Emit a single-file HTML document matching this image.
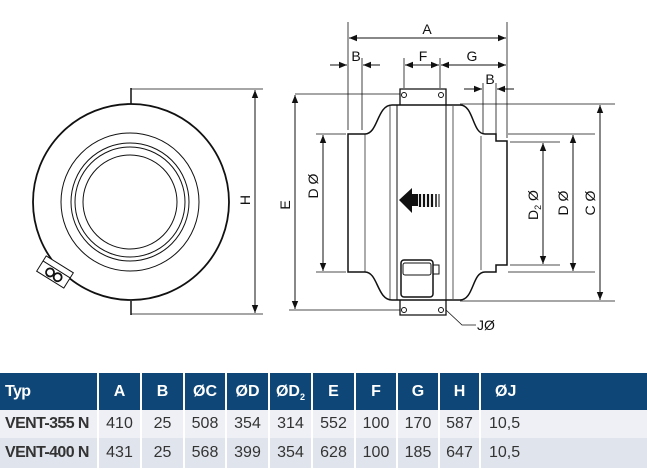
<!DOCTYPE html>
<html><head><meta charset="utf-8"><style>
body{margin:0;width:647px;height:469px;background:#fff;overflow:hidden;font-family:"Liberation Sans",sans-serif}
svg{position:absolute;left:0;top:0}
table{position:absolute;left:0;top:373px;width:647px;table-layout:fixed;border-collapse:collapse;font-family:"Liberation Sans",sans-serif;font-size:16px;white-space:nowrap}
td,th{padding:0;text-align:center;border-left:2px solid #fff;overflow:hidden;line-height:16px}
th{background:#0d4677;color:#fff;height:37px;font-weight:bold}
tr.r1 td{background:#eef0f5;height:28px;color:#333}
tr.r2 td{background:#e0e5ed;height:30px;color:#333}
td.t,th.t{text-align:left;padding-left:5px;border-left:none;font-weight:bold;color:#111;letter-spacing:-0.6px}
th.t{color:#fff}
</style></head><body>
<svg width="647" height="373" viewBox="0 0 647 373" fill="none" stroke="#111" stroke-width="1">
<defs><marker id="a" viewBox="0 0 10 10" refX="10" refY="5" markerWidth="8" markerHeight="8" orient="auto-start-reverse"><path d="M0,1 L10,5 L0,9 z" fill="#111" stroke="none"/></marker></defs>
<line x1="131" y1="88" x2="131" y2="104" stroke-width="1.5"/>
<line x1="131" y1="301" x2="131" y2="315" stroke-width="1.5"/>
<circle cx="131" cy="202" r="98" stroke-width="1.8"/>
<circle cx="130" cy="202" r="69"/>
<circle cx="130" cy="202" r="59"/>
<circle cx="130" cy="202" r="55"/>
<circle cx="130" cy="202" r="47"/>
<g transform="translate(55,272) rotate(32)"><rect x="-16" y="-9" width="32" height="18" fill="#fff"/><line x1="-16" y1="-3" x2="16" y2="-3"/><circle cx="-4" cy="3" r="4" stroke-width="1.8"/><circle cx="5" cy="3" r="4" stroke-width="1.8"/></g>
<line x1="131" y1="89" x2="263" y2="89" stroke-width=".8"/>
<line x1="131" y1="314" x2="263" y2="314" stroke-width=".8"/>
<line x1="255" y1="90" x2="255" y2="313" marker-start="url(#a)" marker-end="url(#a)"/>
<line x1="289" y1="310" x2="400" y2="310" stroke-width=".8"/>
<line x1="295" y1="95" x2="295" y2="309" marker-start="url(#a)" marker-end="url(#a)"/>
<g fill="#111" stroke="none" font-size="14"><text transform="translate(250,200) rotate(-90)" text-anchor="middle">H</text><text transform="translate(290,205) rotate(-90)" text-anchor="middle">E</text></g>
<path d="M400,105 V89 H446 V105" fill="#fff" stroke-width="1.3"/>
<path d="M400,300 V315 H446 V300" fill="#fff" stroke-width="1.3"/>
<circle cx="404" cy="95" r="2.5"/><circle cx="441" cy="95" r="2.5"/>
<circle cx="404" cy="310" r="2.5"/><circle cx="441" cy="310" r="2.5"/>
<path d="M348,134 H365 C378,134 377,105 392,105 H460 C474,105 472,134 485,134 H496 V141 H507 V265 H496 V272 H485 C472,272 474,300 460,300 H392 C377,300 378,272 365,272 H348 Z" stroke-width="1.5"/>
<line x1="397" y1="105" x2="397" y2="300"/><line x1="390" y1="106" x2="390" y2="299" stroke-width=".7"/>
<line x1="446" y1="105" x2="446" y2="300"/><line x1="453" y1="106" x2="453" y2="299" stroke-width=".7"/>
<line x1="365" y1="134" x2="365" y2="272" stroke-width=".7"/>
<line x1="481" y1="136" x2="481" y2="270" stroke-width=".7"/>
<path d="M399,200 L412,188 V194 H418 V206 H412 V213 Z" fill="#111" stroke="none"/>
<g stroke-width="2.2"><line x1="420" y1="194" x2="420" y2="207"/><line x1="424" y1="194" x2="424" y2="207"/><line x1="428" y1="194" x2="428" y2="207"/><line x1="432" y1="194" x2="432" y2="207"/><line x1="436" y1="194" x2="436" y2="207" stroke-width="1.5"/><line x1="439" y1="194" x2="439" y2="207" stroke-width="1"/></g>
<rect x="401" y="260" width="32" height="37" rx="3" stroke-width="1.5"/>
<rect x="403" y="263" width="28" height="12" rx="2"/>
<rect x="433" y="265" width="6" height="9"/>
<line x1="348" y1="22" x2="348" y2="130" stroke-width=".8"/>
<line x1="507" y1="22" x2="507" y2="138" stroke-width=".8"/>
<line x1="362" y1="58" x2="362" y2="130" stroke-width=".8"/>
<line x1="404" y1="58" x2="404" y2="88" stroke-width=".8"/>
<line x1="440" y1="58" x2="440" y2="88" stroke-width=".8"/>
<line x1="349" y1="38" x2="506" y2="38" marker-start="url(#a)" marker-end="url(#a)"/>
<line x1="330" y1="65" x2="347" y2="65" marker-end="url(#a)"/>
<line x1="380" y1="65" x2="363" y2="65" marker-end="url(#a)"/>
<line x1="405" y1="65" x2="439" y2="65" marker-start="url(#a)" marker-end="url(#a)"/>
<line x1="441" y1="65" x2="506" y2="65" marker-start="url(#a)" marker-end="url(#a)"/>
<line x1="483" y1="83" x2="483" y2="134" stroke-width=".8"/>
<line x1="496" y1="83" x2="496" y2="134" stroke-width=".8"/>
<line x1="464" y1="89" x2="482" y2="89" marker-end="url(#a)"/>
<line x1="514" y1="89" x2="497" y2="89" marker-end="url(#a)"/>
<line x1="295" y1="94" x2="400" y2="94" stroke-width=".8"/>
<line x1="316" y1="134" x2="346" y2="134" stroke-width=".8"/>
<line x1="316" y1="272" x2="346" y2="272" stroke-width=".8"/>
<line x1="323" y1="135" x2="323" y2="271" marker-start="url(#a)" marker-end="url(#a)"/>
<line x1="460" y1="104" x2="615" y2="104" stroke-width=".8"/>
<line x1="460" y1="301" x2="615" y2="301" stroke-width=".8"/>
<line x1="508" y1="134" x2="595" y2="134" stroke-width=".8"/>
<line x1="508" y1="272" x2="595" y2="272" stroke-width=".8"/>
<line x1="510" y1="142" x2="560" y2="142" stroke-width=".8"/>
<line x1="510" y1="265" x2="560" y2="265" stroke-width=".8"/>
<line x1="543" y1="143" x2="543" y2="264" marker-start="url(#a)" marker-end="url(#a)"/>
<line x1="573" y1="135" x2="573" y2="271" marker-start="url(#a)" marker-end="url(#a)"/>
<line x1="600" y1="105" x2="600" y2="300" marker-start="url(#a)" marker-end="url(#a)"/>
<polyline points="446,310 462,325 476,325" stroke-width=".8"/>
<g fill="#111" stroke="none" font-size="14" text-anchor="middle">
<text x="427" y="34">A</text><text x="356" y="61">B</text><text x="423" y="61">F</text><text x="472" y="61">G</text><text x="490" y="84">B</text>
<text x="477" y="330" text-anchor="start">JØ</text>
<text transform="translate(318,186) rotate(-90)">D Ø</text>
<text transform="translate(538,205) rotate(-90)">D<tspan font-size="9" dy="3">2</tspan><tspan dy="-3"> Ø</tspan></text>
<text transform="translate(568,203) rotate(-90)">D Ø</text>
<text transform="translate(595,203) rotate(-90)">C Ø</text>
</g>
</svg>
<table>
<colgroup><col style="width:98px"><col style="width:43px"><col style="width:43px"><col style="width:42px"><col style="width:43px"><col style="width:43px"><col style="width:43px"><col style="width:42px"><col style="width:42px"><col style="width:41px"><col style="width:167px"></colgroup>
<tr><th class="t">Typ</th><th>A</th><th>B</th><th>ØC</th><th>ØD</th><th>ØD<sub style="font-size:9px;line-height:0">2</sub></th><th>E</th><th>F</th><th>G</th><th>H</th><th style="text-align:left;padding-left:14px">ØJ</th></tr>
<tr class="r1"><td class="t">VENT-355 N</td><td>410</td><td>25</td><td>508</td><td>354</td><td>314</td><td>552</td><td>100</td><td>170</td><td>587</td><td style="text-align:left;padding-left:8px">10,5</td></tr>
<tr class="r2"><td class="t">VENT-400 N</td><td>431</td><td>25</td><td>568</td><td>399</td><td>354</td><td>628</td><td>100</td><td>185</td><td>647</td><td style="text-align:left;padding-left:8px">10,5</td></tr>
</table>
</body></html>
